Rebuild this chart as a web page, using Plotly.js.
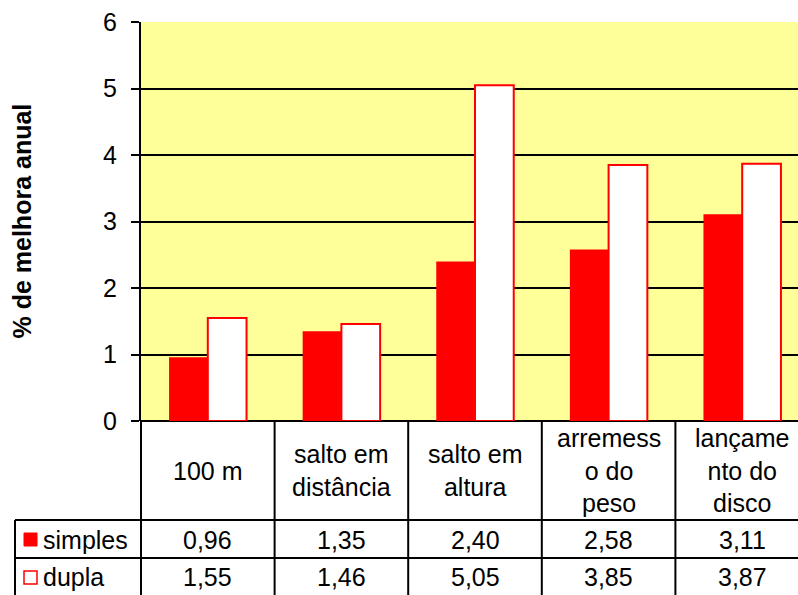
<!DOCTYPE html>
<html>
<head>
<meta charset="utf-8">
<script src="https://cdn.plot.ly/plotly-3.0.1.min.js"></script>
<style>
html, body { margin: 0; padding: 0; overflow: hidden; background: #fff; }
#chart { width: 809px; height: 595px; }
</style>
</head>
<body>
<div id="chart"></div>
<script>
const categories = ["100 m", "salto em distância", "salto em altura", "arremesso do peso", "lançamento do disco"];
const categoryLabels = ["100 m", "salto em<br>distância", "salto em<br>altura", "arremess<br>o do<br>peso", "lançame<br>nto do<br>disco"];
const seriesNames = ["simples", "dupla"];
const simples = [0.96, 1.35, 2.40, 2.58, 3.11];
const dupla = [1.55, 1.46, 5.05, 3.85, 3.87];
const yTitle = "% de melhora anual";

const W = 809, H = 595;
const mL = 141, mT = 22, mB = 174, mR = 0;
const plotW = W - mL - mR, plotH = H - mT - mB;
// helpers converting pixel offsets to paper coords
const py = (pix) => -(pix - (mT + plotH)) / plotH;
const px = (pix) => (pix - mL) / plotW;

const fontFam = "Liberation Sans, Arial, sans-serif";
const n = categories.length;

const traces = [
  {
    type: "bar", name: seriesNames[0], x: categories, y: simples,
    marker: { color: "#FF0000", line: { color: "#FF0000", width: 0 } },
    hoverinfo: "skip"
  },
  {
    type: "bar", name: seriesNames[1], x: categories, y: dupla,
    marker: { color: "#FFFFFF", line: { color: "#FF0000", width: 2 } },
    hoverinfo: "skip"
  }
];

const shapes = [];
const annotations = [];
const lineStyle = { color: "#000", width: 2 };

const rowHeaderBottom = 520, row1Bottom = 558, row2Bottom = 600;
const legendLeft = 15;

for (let i = 0; i <= n; i++) {
  shapes.push({ type: "line", xref: "paper", yref: "paper",
    x0: i / n, x1: i / n, y0: 0, y1: py(row2Bottom), line: lineStyle, layer: "above" });
}
shapes.push({ type: "line", xref: "paper", yref: "paper",
  x0: px(legendLeft), x1: px(legendLeft), y0: py(rowHeaderBottom), y1: py(row2Bottom), line: lineStyle });
[rowHeaderBottom, row1Bottom].forEach(r => {
  shapes.push({ type: "line", xref: "paper", yref: "paper",
    x0: px(legendLeft), x1: 1, y0: py(r), y1: py(r), line: lineStyle });
});
shapes.push({ type: "rect", xref: "paper", yref: "paper",
  x0: px(24), x1: px(37), y0: py(533), y1: py(546),
  fillcolor: "#FF0000", line: { color: "#FF0000", width: 1 } });
shapes.push({ type: "rect", xref: "paper", yref: "paper",
  x0: px(24), x1: px(37), y0: py(571), y1: py(584),
  fillcolor: "#FFFFFF", line: { color: "#FF0000", width: 1.5 } });

const tFont = { family: fontFam, size: 25, color: "#000" };

categories.forEach((c, i) => {
  annotations.push({ xref: "x", yref: "paper", x: c, y: py(471),
    text: categoryLabels[i], showarrow: false, font: tFont,
    xanchor: "center", yanchor: "middle", align: "center" });
  annotations.push({ xref: "x", yref: "paper", x: c, y: py(540),
    text: simples[i].toFixed(2).replace(".", ","), showarrow: false, font: tFont,
    xanchor: "center", yanchor: "middle" });
  annotations.push({ xref: "x", yref: "paper", x: c, y: py(577),
    text: dupla[i].toFixed(2).replace(".", ","), showarrow: false, font: tFont,
    xanchor: "center", yanchor: "middle" });
});
annotations.push({ xref: "paper", yref: "paper", x: px(41), y: py(540),
  text: seriesNames[0], showarrow: false, font: tFont, xanchor: "left", yanchor: "middle" });
annotations.push({ xref: "paper", yref: "paper", x: px(41), y: py(577),
  text: seriesNames[1], showarrow: false, font: tFont, xanchor: "left", yanchor: "middle" });
annotations.push({ xref: "paper", yref: "paper", x: px(21), y: 0.5,
  text: "<b>" + yTitle + "</b>", textangle: -90, showarrow: false,
  font: { family: fontFam, size: 25, color: "#000" }, xanchor: "center", yanchor: "middle" });

const layout = {
  width: W, height: H,
  margin: { l: mL, r: mR, t: mT, b: mB, pad: 0 },
  paper_bgcolor: "#FFFFFF",
  plot_bgcolor: "#FFFF99",
  showlegend: false,
  barmode: "group",
  bargap: 0.42,
  bargroupgap: 0,
  font: { family: fontFam, color: "#000" },
  xaxis: {
    type: "category", range: [-0.5, n - 0.5],
    showticklabels: false, ticks: "", showgrid: false,
    showline: false, zeroline: false, fixedrange: true
  },
  yaxis: {
    range: [0, 6], dtick: 1, tick0: 0,
    showgrid: true, gridcolor: "#000", gridwidth: 2,
    zeroline: true, zerolinecolor: "#000", zerolinewidth: 2,
    showline: true, linecolor: "#000", linewidth: 2,
    ticks: "outside", ticklen: 8, tickwidth: 2, tickcolor: "#000",
    ticklabelstandoff: 9,
    tickfont: { family: fontFam, size: 25, color: "#000" },
    fixedrange: true
  },
  shapes: shapes,
  annotations: annotations
};

Plotly.newPlot("chart", traces, layout, { staticPlot: true, displayModeBar: false });
</script>
</body>
</html>
